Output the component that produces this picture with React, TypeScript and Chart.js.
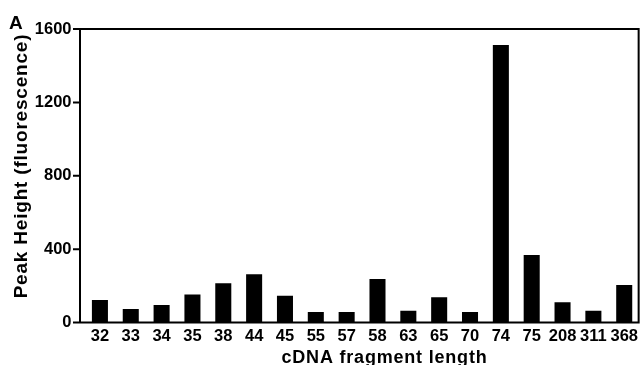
import React, { useEffect, useRef } from "react";
import { Chart, registerables } from "chart.js";

Chart.register(...registerables);

const categories = ["32", "33", "34", "35", "38", "44", "45", "55", "57", "58", "63", "65", "70", "74", "75", "208", "311", "368"];
const peakHeights = [123, 74, 95, 152, 214, 263, 146, 57, 57, 237, 64, 137, 57, 1513, 368, 110, 64, 204];
const yTicks = [0, 400, 800, 1200, 1600];
const yTitle = "Peak Height (fluorescence)";
const xTitle = "cDNA fragment length";
const panelLabel = "A";

const FONT = "'Liberation Sans', Arial, Helvetica, sans-serif";

export default function App() {
  const ref = useRef<HTMLCanvasElement | null>(null);

  useEffect(() => {
    document.body.style.margin = "0";
    const canvas = ref.current;
    if (!canvas) return;

    const framePlugin = {
      id: "frame",
      afterDraw(chart: any) {
        const ctx = chart.ctx;
        const ys = chart.scales.y;
        const area = chart.chartArea;
        const y0 = ys.getPixelForValue(0);
        const yTop = ys.getPixelForValue(1600);
        const axisX = area.left - 4.5;
        const right = area.right - 1;
        ctx.save();
        ctx.strokeStyle = "#000";
        ctx.lineWidth = 2;
        ctx.beginPath();
        ctx.moveTo(axisX - 7, y0);
        ctx.lineTo(right + 1, y0);
        ctx.moveTo(axisX, yTop - 1);
        ctx.lineTo(axisX, y0);
        ctx.moveTo(axisX, yTop);
        ctx.lineTo(right + 1, yTop);
        ctx.moveTo(right, yTop);
        ctx.lineTo(right, y0);
        yTicks.forEach((t) => {
          const p = ys.getPixelForValue(t);
          ctx.moveTo(axisX - 7, p);
          ctx.lineTo(axisX, p);
        });
        ctx.stroke();

        ctx.fillStyle = "#000";
        ctx.font = `bold 18px ${FONT}`;
        ctx.textAlign = "center";
        ctx.textBaseline = "alphabetic";
        (ctx as any).letterSpacing = "0.8px";
        ctx.fillText(xTitle, 384.5, 363);
        (ctx as any).letterSpacing = "0px";
        ctx.font = `bold 19px ${FONT}`;
        ctx.textAlign = "left";
        ctx.fillText(panelLabel, 9, 28.5);
        ctx.translate(26.5, 166);
        ctx.rotate(-Math.PI / 2);
        ctx.font = `bold 19px ${FONT}`;
        (ctx as any).letterSpacing = "0.8px";
        ctx.textAlign = "center";
        ctx.textBaseline = "alphabetic";
        ctx.fillText(yTitle, 0, 0);
        ctx.restore();
      },
    };

    const chart = new Chart(canvas, {
      type: "bar",
      data: {
        labels: categories,
        datasets: [
          {
            data: peakHeights,
            backgroundColor: "#000",
            borderWidth: 0,
            barPercentage: 0.52,
            categoryPercentage: 1,
          },
        ],
      },
      options: {
        responsive: false,
        animation: false,
        layout: { padding: { top: 29, right: 0.5, left: 0, bottom: 0 } },
        plugins: { legend: { display: false }, tooltip: { enabled: false }, title: { display: false } },
        scales: {
          x: {
            offset: true,
            grid: { display: false, drawTicks: false },
            border: { display: false },
            ticks: {
              color: "#000",
              font: { family: FONT, size: 16.5, weight: "bold" },
              padding: 4,
              maxRotation: 0,
              autoSkip: false,
            },
            afterFit: (s: any) => {
              s.height = 42.5;
            },
          },
          y: {
            min: 0,
            max: 1600,
            afterBuildTicks: (s: any) => {
              s.ticks = yTicks.map((v) => ({ value: v }));
            },
            grid: { drawOnChartArea: false, drawTicks: true, tickLength: 10, color: "rgba(0,0,0,0)" },
            border: { display: false },
            ticks: {
              color: "#000",
              font: { family: FONT, size: 16.5, weight: "bold" },
              padding: 3,
              callback: (v: any) => String(v),
            },
            afterFit: (s: any) => {
              s.width = 84.5;
            },
          },
        },
      },
      plugins: [framePlugin],
    });

    return () => chart.destroy();
  }, []);

  return (
    <div style={{ position: "absolute", left: 0, top: 0, width: 642, height: 365, background: "#fff" }}>
      <canvas ref={ref} width={642} height={365} style={{ display: "block", width: 642, height: 365 }} />
    </div>
  );
}
